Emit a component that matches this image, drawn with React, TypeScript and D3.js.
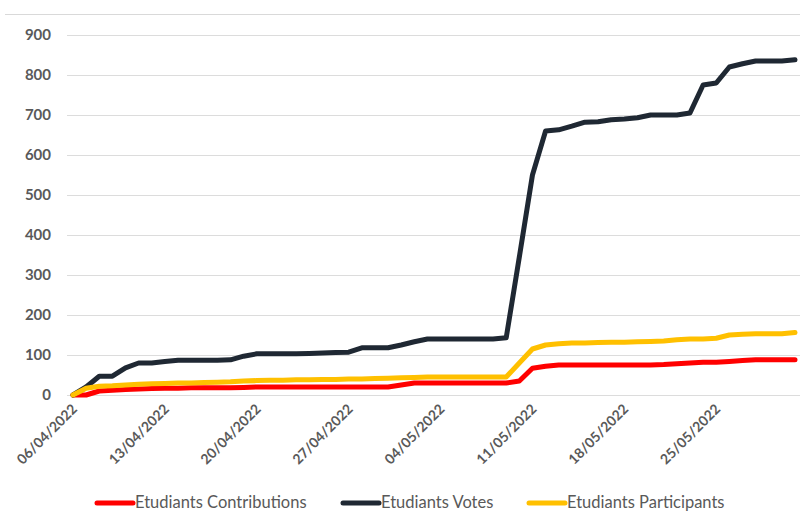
import React from 'react';
import * as d3 from 'd3';

// daily values, 06/04/2022 -> 31/05/2022
const startDate = '06/04/2022';
const endDate = '31/05/2022';

const contributions = [
  0, 0, 10, 12, 14, 15, 16, 17, 17, 18, 18, 18, 18, 19, 20, 20, 20, 20, 20, 20,
  20, 20, 20, 20, 20, 25, 30, 30, 30, 30, 30, 30, 30, 30, 35, 67, 72, 75, 75, 75,
  75, 75, 75, 75, 75, 76, 78, 80, 82, 82, 84, 86, 88, 88, 88, 88,
];

const votes = [
  0, 20, 47, 47, 68, 80, 80, 84, 87, 87, 87, 87, 88, 97, 103, 103, 103, 103, 104, 105,
  106, 107, 118, 118, 118, 125, 133, 140, 140, 140, 140, 140, 140, 143, 345, 550, 660, 663, 672, 682,
  683, 688, 690, 693, 700, 700, 700, 705, 775, 780, 820, 828, 835, 835, 835, 838,
];

const participants = [
  0, 17, 22, 23, 25, 27, 28, 29, 30, 30, 31, 32, 33, 35, 36, 37, 37, 38, 38, 39,
  39, 40, 40, 41, 42, 43, 44, 45, 45, 45, 45, 45, 45, 45, 80, 115, 125, 128, 130, 130,
  131, 132, 132, 133, 134, 135, 138, 140, 140, 142, 150, 152, 153, 153, 153, 156,
];

const seriesNames = ['Etudiants Contributions', 'Etudiants Votes', 'Etudiants Participants'];
const seriesColors = ['#ff0000', '#1f2833', '#ffc000'];

const xTickLabels = [
  '06/04/2022', '13/04/2022', '20/04/2022', '27/04/2022',
  '04/05/2022', '11/05/2022', '18/05/2022', '25/05/2022',
];
const yTicks = [0, 100, 200, 300, 400, 500, 600, 700, 800, 900];

const parse = d3.timeParse('%d/%m/%Y');

export default function App() {
  const width = 800;
  const height = 513;
  const font = 'Lato, "Open Sans", sans-serif';

  const x = d3.scaleTime()
    .domain([parse(startDate)!, parse(endDate)!])
    .range([73, 795]);

  const y = d3.scaleLinear()
    .domain([0, 900])
    .range([395, 35]);

  const days = d3.timeDay.range(parse(startDate)!, d3.timeDay.offset(parse(endDate)!, 1));
  const all = [contributions, votes, participants];

  const line = d3.line<number>()
    .x((_, i) => x(days[i]))
    .y(d => y(d));

  const legendX = [97, 343, 529];

  return (
    <svg width={width} height={height} style={{ position: 'absolute', left: 0, top: 0 }}>
      <rect width={width} height={height} fill="#fff" />
      <line x1={5} x2={800} y1={14.5} y2={14.5} stroke="#d9d9d9" />
      {yTicks.map(t => (
        <g key={t}>
          <line x1={67} x2={800} y1={y(t) + 0.5} y2={y(t) + 0.5} stroke="#dcdcdc" strokeWidth={1.2} />
          <text x={51} y={y(t)} dy="0.36em" textAnchor="end" fontFamily={font}
            fontWeight="bold" fontSize={15} fill="#595959">{t}</text>
        </g>
      ))}
      {xTickLabels.map(l => (
        <text key={l} transform={`translate(${x(parse(l)!) + 5},${410}) rotate(-45)`}
          textAnchor="end" fontFamily={font} fontWeight="bold" fontSize={14} fill="#595959">{l}</text>
      ))}
      {all.map((s, k) => (
        <path key={k} d={line(s) || ''} fill="none" stroke={seriesColors[k]}
          strokeWidth={5} strokeLinejoin="round" strokeLinecap="round" />
      ))}
      {seriesNames.map((n, k) => (
        <g key={n} transform={`translate(${legendX[k]},503)`}>
          <line x1={0} x2={36} y1={0} y2={0} stroke={seriesColors[k]} strokeWidth={5} strokeLinecap="round" />
          <text x={38} y={0} dy="0.33em" fontFamily={font} fontSize={16.5} fill="#595959">{n}</text>
        </g>
      ))}
    </svg>
  );
}
